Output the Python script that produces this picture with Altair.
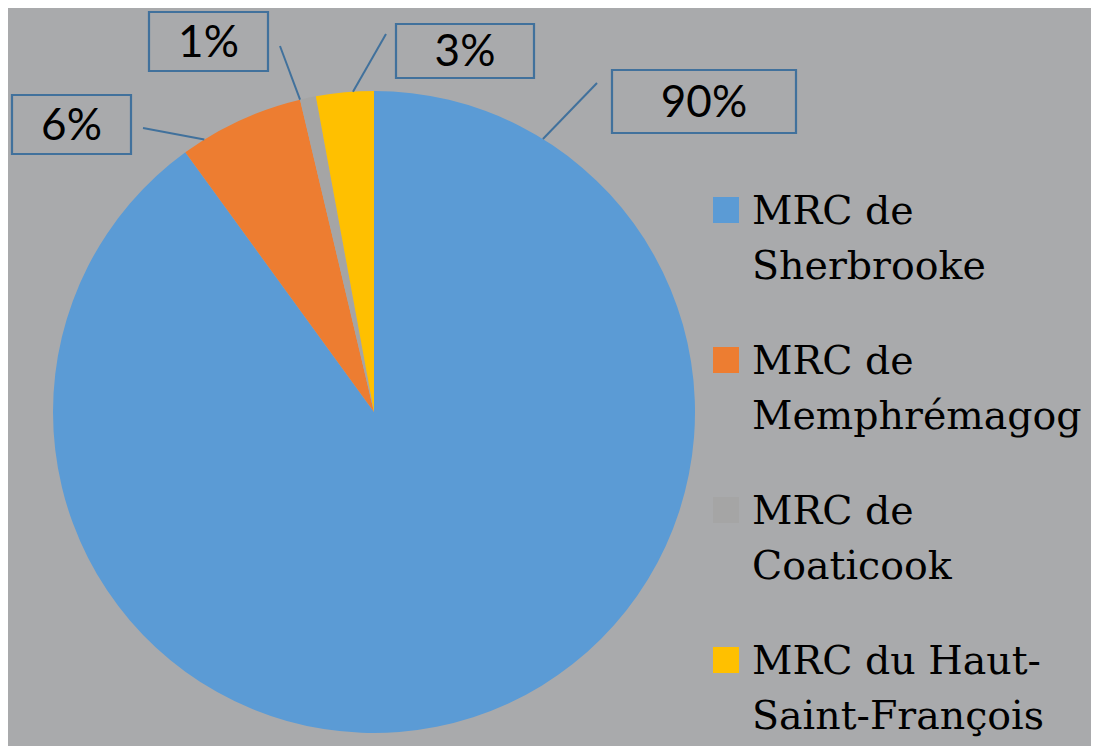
import math
import altair as alt
import pandas as pd

# ---- data ----
categories = ["MRC de Sherbrooke", "MRC de Memphrémagog", "MRC de Coaticook", "MRC du Haut-Saint-François"]
legend_text = ["MRC de\nSherbrooke", "MRC de\nMemphrémagog", "MRC de\nCoaticook", "MRC du Haut-\nSaint-François"]
values = [90.0, 6.3, 0.8, 2.9]
pct_labels = ["90%", "6%", "1%", "3%"]
colors = ["#5B9BD5", "#ED7D31", "#A5A5A5", "#FFC000"]

# ---- layout (page pixel coordinates) ----
W, H, M = 1083, 738, 8
CX, CY, R = 374, 412, 321
anchor_frac = [0.098, 0.18, 0.0, 0.64]          # where on each slice the leader starts
leader_end = [(597, 83), (143, 128), (280, 46), (386, 34)]
boxes = [(612, 70, 796, 133), (12, 95, 131, 154), (149, 12, 268, 71), (396, 24, 534, 78)]
LEG_SQ_X, LEG_TXT_X, LEG_Y0, LEG_STEP = 726, 752, 210, 150

total = sum(values)
cum = 0.0
rows = []
for i, v in enumerate(values):
    a0 = cum / total * 2 * math.pi
    a1 = (cum + v) / total * 2 * math.pi
    cum += v
    a = a0 + anchor_frac[i] * (a1 - a0)
    sx = CX + R * math.sin(a)
    sy = CY - R * math.cos(a)
    bx0, by0, bx1, by1 = boxes[i]
    rows.append(dict(category=categories[i], value=v, order=i, label=pct_labels[i],
                     lx0=sx, ly0=sy, lx1=leader_end[i][0], ly1=leader_end[i][1],
                     bx0=bx0, by0=by0, bx1=bx1, by1=by1,
                     tx=(bx0 + bx1) / 2, ty=(by0 + by1) / 2 + 2,
                     legtxt=legend_text[i],
                     sqy=LEG_Y0 + i * LEG_STEP))
df = pd.DataFrame(rows)

xs = alt.Scale(domain=[M, M + W], nice=False, zero=False)
ys = alt.Scale(domain=[M, M + H], nice=False, zero=False, reverse=True)
cscale = alt.Scale(domain=categories, range=colors)
base = alt.Chart(df)

pie = base.mark_arc(radius=R).encode(
    theta=alt.Theta("value:Q", stack=True),
    color=alt.Color("category:N", scale=cscale, legend=None),
    order=alt.Order("order:Q"),
    x=alt.value(CX - M),
    y=alt.value(CY - M),
)

leaders = base.mark_rule(color="#41719C", strokeWidth=2).encode(
    x=alt.X("lx0:Q", scale=xs, axis=None), y=alt.Y("ly0:Q", scale=ys, axis=None),
    x2="lx1:Q", y2="ly1:Q",
)

box = base.mark_rect(fill=None, fillOpacity=0, stroke="#41719C", strokeWidth=2.2).encode(
    x=alt.X("bx0:Q", scale=xs, axis=None), y=alt.Y("by0:Q", scale=ys, axis=None),
    x2="bx1:Q", y2="by1:Q",
)

box_txt = base.mark_text(font="Lato", fontSize=44, color="#000000", align="center",
                         baseline="middle").encode(
    x=alt.X("tx:Q", scale=xs, axis=None), y=alt.Y("ty:Q", scale=ys, axis=None),
    text="label:N",
)

leg_sq = base.mark_rect().encode(
    x=alt.X("sqx0:Q", scale=xs, axis=None), x2="sqx1:Q",
    y=alt.Y("sqy0:Q", scale=ys, axis=None), y2="sqy1:Q",
    color=alt.Color("category:N", scale=cscale, legend=None),
).transform_calculate(
    sqx0=f"{LEG_SQ_X - 13}", sqx1=f"{LEG_SQ_X + 13}",
    sqy0="datum.sqy - 13", sqy1="datum.sqy + 13",
)

leg_txt = base.mark_text(font="DejaVu Serif", fontSize=39.5, color="#000000", align="left",
                         baseline="alphabetic", lineBreak="\n", lineHeight=55).encode(
    x=alt.X("lx:Q", scale=xs, axis=None),
    y=alt.Y("ly:Q", scale=ys, axis=None),
    text="legtxt:N",
).transform_calculate(lx=f"{LEG_TXT_X}", ly="datum.sqy + 14")

chart = alt.layer(pie, leaders, box, box_txt, leg_sq, leg_txt).properties(
    width=W, height=H, padding=0, background="#A9AAAC",
    autosize=alt.AutoSizeParams(type="none"),
).configure_view(stroke=None)

chart.save("out.html", embed_options={"renderer": "svg", "actions": False})
